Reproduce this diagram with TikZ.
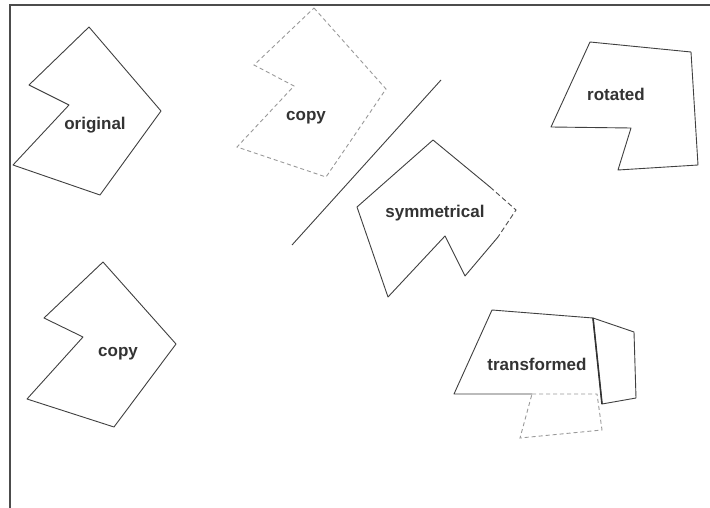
\documentclass[tikz,border=0pt]{standalone}
\usepackage{fontspec}
\setmainfont{Liberation Sans}
\begin{document}
\begin{tikzpicture}[x=1pt,y=-1pt,
  solidshape/.style={draw=black!75, line width=0.9pt, line join=round},
  dashshape/.style={draw=black!40, line width=0.9pt, dash pattern=on 4pt off 3pt},
  lbl/.style={font=\fontsize{17}{19}\selectfont\bfseries, text=black!80, inner sep=0pt}]
\useasboundingbox (0,0) rectangle (710,508);
\fill[white] (0,0) rectangle (710,508);
% frame
\draw[black!70, line width=2pt] (10,508) -- (10,5) -- (710,5);
% original
\draw[solidshape] (89,27) -- (161,111) -- (100,195) -- (13,165) -- (69,105) -- (29,85) -- cycle;
\node[lbl] (orig) at (95,125) {original};
% copy (bottom left)
\draw[solidshape] (103,262) -- (176,344) -- (114,427) -- (27,399) -- (83,337) -- (44,318) -- cycle;
\node[lbl] (copyb) at (118,354) {copy};
% dashed copy
\draw[dashshape] (314,8) -- (386,89) -- (326,177) -- (237,147) -- (294,86) -- (254,65) -- cycle;
\node[lbl] (copyt) at (306,118) {copy};
% mirror line
\coordinate (m1) at (441,80);
\coordinate (m2) at (292,245);
\draw[solidshape] (m1) -- (m2);
% symmetrical
\draw[solidshape] (498,237) -- (465,276) -- (445,236) -- (388,297) -- (357,207) -- (433,140) -- (490,187);
\draw[black!70, line width=0.9pt, dash pattern=on 5pt off 3pt] (490,187) -- (516,210) -- (498,237);
\node[lbl] (sym) at (435,213) {symmetrical};
% rotated
\draw[solidshape] (590,42) -- (691,52) -- (698,165) -- (618,170) -- (631,128) -- (551,127) -- cycle;
\node[lbl] (rot) at (616,94) {rotated};
% transformed
\draw[dashshape] (532,394) -- (597,394) -- (602,430) -- (520,438) -- cycle;
\draw[solidshape] (532,394) -- (454,394) -- (492,310) -- (593,318);
\draw[solidshape] (593,318) -- (634,332) -- (636,398) -- (602,404) -- cycle;
\draw[black!80, line width=1.6pt] (593,318) -- (602,404);
\node[lbl] (trans) at (537,364) {transformed};
\end{tikzpicture}
\end{document}
